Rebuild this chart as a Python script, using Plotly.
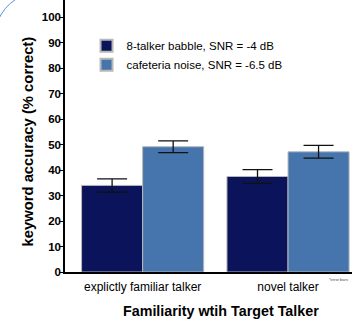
import plotly.graph_objects as go

categories = ["explictly familiar talker", "novel talker"]
series_names = ["8-talker babble, SNR = -4 dB", "cafeteria noise, SNR = -6.5 dB"]
babble_vals = [34.0, 37.5]
babble_err = [2.6, 2.7]
cafe_vals = [49.2, 47.2]
cafe_err = [2.3, 2.5]
y_ticks = [0, 10, 20, 30, 40, 50, 60, 70, 80, 90, 100]

colors = ["#0b145a", "#4675ae"]
font = "Liberation Sans, Arial, sans-serif"

fig = go.Figure()
for name, vals, errs, col in zip(series_names, [babble_vals, cafe_vals], [babble_err, cafe_err], colors):
    fig.add_trace(go.Bar(
        x=categories, y=vals, name=name,
        marker=dict(color=col, line=dict(color="#b8b8b8", width=1)),
        error_y=dict(type="data", array=errs, visible=True, color="#111111", thickness=1.3, width=15),
    ))

fig.update_layout(
    width=352, height=322,
    margin=dict(l=65, r=0, t=0, b=50, autoexpand=False),
    plot_bgcolor="white", paper_bgcolor="white",
    barmode="group", bargap=0.16, bargroupgap=0,
    font=dict(family=font, color="black", size=11),
    showlegend=True,
    legend=dict(x=0.075, y=0.885, xanchor="left", yanchor="top",
                font=dict(size=11.5, family=font), bgcolor="rgba(0,0,0,0)",
                itemsizing="constant", tracegroupgap=0),
    xaxis=dict(range=[-0.534, 1.44], showline=True, linecolor="black", linewidth=1.5,
               ticks="", tickfont=dict(size=12, family=font), automargin=False,
               ticklabelstandoff=3),
    yaxis=dict(range=[0, 106.8], tickvals=y_ticks, ticktext=[f"<b>{v}</b>" for v in y_ticks],
               showline=True, linecolor="black", linewidth=1.5, ticks="outside", ticklen=4,
               tickwidth=1.2, tickcolor="black", showgrid=False, zeroline=False,
               tickfont=dict(size=11.5, family=font), automargin=False,
               ticklabelstandoff=-4),
)

# axis titles placed in paper coordinates (plot area: x 65..352, y 0..272)
fig.add_annotation(text="<b>Familiarity wtih Target Talker</b>", x=(221 - 65) / 287, y=-(311 - 272) / 272,
                   xref="paper", yref="paper", xanchor="center", yanchor="middle",
                   showarrow=False, font=dict(size=14.3, family=font))
fig.add_annotation(text="<b>keyword accuracy (% correct)</b>", x=(27.5 - 65) / 287, y=1 - 142 / 272,
                   xref="paper", yref="paper", xanchor="center", yanchor="middle", textangle=-90,
                   showarrow=False, font=dict(size=14.8, family=font))
fig.add_annotation(text="*error bars", x=(350 - 65) / 287, y=-0.012, xref="paper", yref="paper",
                   xanchor="right", yanchor="top", showarrow=False,
                   font=dict(size=4, family=font, color="#444444"))

fig.add_shape(type="path", xref="paper", yref="paper",
              path="M -0.2335,0.925 Q -0.212,0.975 -0.172,1.002",
              line=dict(color="#5a8fd0", width=1))

fig.write_html("out.html", config={"displayModeBar": False},
               post_script="document.body.style.margin='0';document.body.style.overflow='hidden';")
